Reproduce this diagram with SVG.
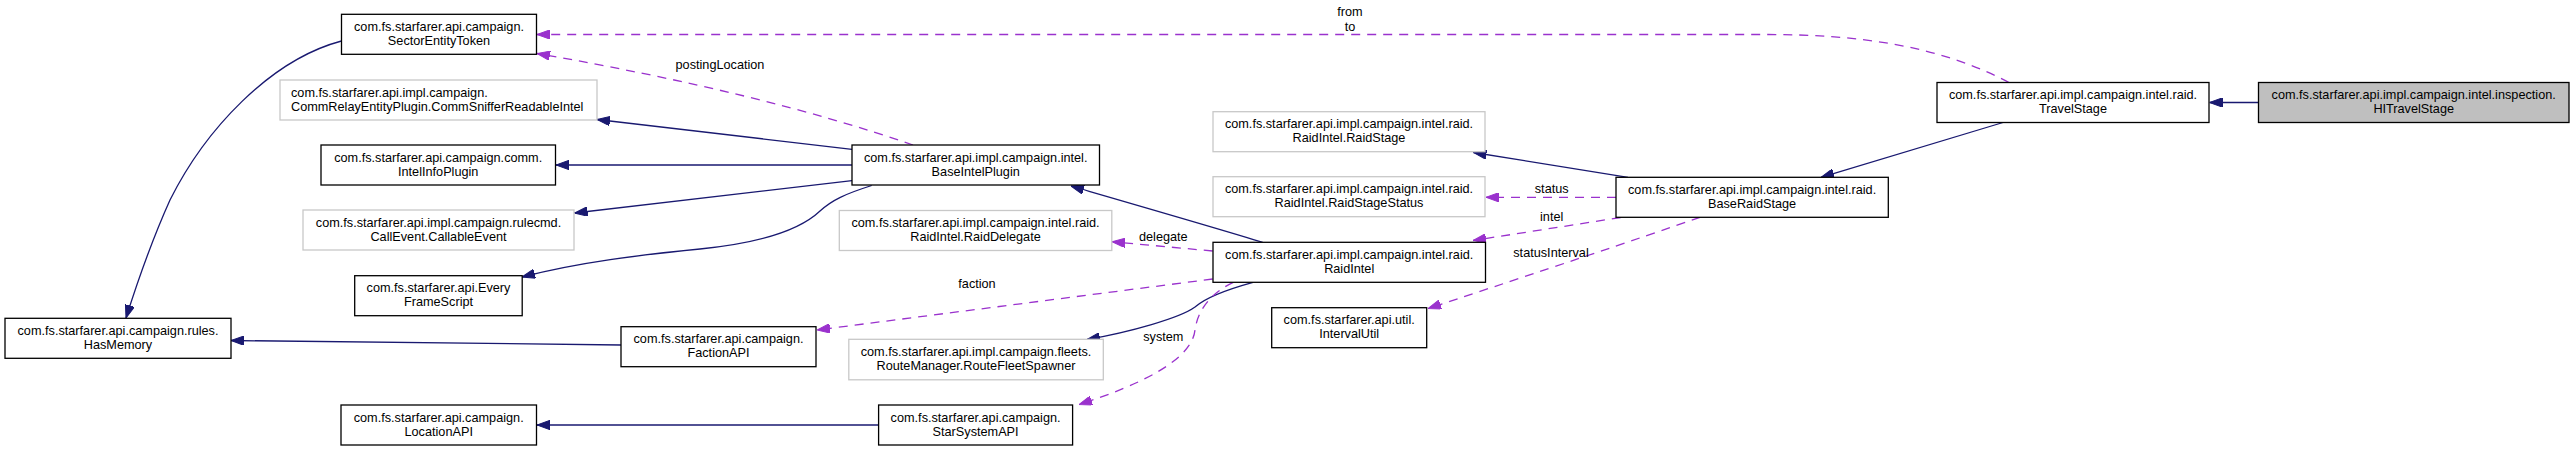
<svg xmlns="http://www.w3.org/2000/svg" width="2575" height="451" viewBox="0 0 2575 451">
<style>
text{font-family:"Liberation Sans",Arial,sans-serif;font-size:12.7px;fill:#000;text-anchor:middle}
text.l{text-anchor:start}
.n rect{fill:#fff;stroke:#000;stroke-width:1.3}
.n.g rect{stroke:#c8c8c8}
.n.h rect{fill:#bfbfbf}
.e path{fill:none;stroke-width:1.3}
.s{stroke:#191970;marker-end:url(#an)}
.d{stroke:#9a32cd;stroke-dasharray:9,7;marker-end:url(#ap)}
</style>
<defs>
<marker id="an" viewBox="0 0 13 9.4" refX="13" refY="4.7" markerWidth="13" markerHeight="9.4" markerUnits="userSpaceOnUse" orient="auto"><path d="M0,0 L13,4.7 L0,9.4 z" fill="#191970" stroke="#191970" stroke-width="1"/></marker>
<marker id="ap" viewBox="0 0 13 9.4" refX="13" refY="4.7" markerWidth="13" markerHeight="9.4" markerUnits="userSpaceOnUse" orient="auto"><path d="M0,0 L13,4.7 L0,9.4 z" fill="#9a32cd" stroke="#9a32cd" stroke-width="1"/></marker>
</defs>
<rect width="2575" height="451" fill="#fff"/>
<g id="edges" class="e">
<path class="s" d="M2258.5,102.5 L2209.5,102.5"/>
<path class="s" d="M2003,122.5 L1821,177.3"/>
<path class="d" d="M2009,82.5 C1940,46 1860,34.5 1768,34.5 L537,34.5"/>
<path class="s" d="M1628,177.3 L1473.5,152.5"/>
<path class="d" d="M1616,197.3 L1486,197.3"/>
<path class="d" d="M1620.7,217.5 L1473,240.5"/>
<path class="d" d="M1700,217.3 Q1600,252 1428,308.5"/>
<path class="s" d="M1262.7,242.3 C1230,232 1140,206 1071,186"/>
<path class="d" d="M1212.7,251 L1112,241.7"/>
<path class="d" d="M1212.7,279 L817,330"/>
<path class="s" d="M1253,282.3 C1225,290 1205,298 1195,307 C1180,318 1130,332 1087,339.5"/>
<path class="d" d="M1233.3,282.3 C1213,292 1198,308 1195,330 C1192,360 1140,385 1079,404.5"/>
<path class="s" d="M878.6,425 L537,425"/>
<path class="s" d="M621,345 L231,340.5"/>
<path class="s" d="M341.5,41 C270,60 205,130 170,200 C152,240 138,280 126,318"/>
<path class="d" d="M913,145 Q760,92 537,53.5"/>
<path class="s" d="M852,149.3 L597,119.5"/>
<path class="s" d="M852,165 L556,165"/>
<path class="s" d="M852,180.7 L574.5,213"/>
<path class="s" d="M871.7,185.5 C845,194 832,200 820,211 C800,230 760,243 700,249 C640,255 580,262 522,277"/>
<text x="1350" y="16">from</text>
<text x="1350" y="31">to</text>
<text x="720" y="69">postingLocation</text>
<text x="1551.7" y="193.3">status</text>
<text x="1551.7" y="221">intel</text>
<text x="1551" y="257.3">statusInterval</text>
<text x="1163.3" y="241">delegate</text>
<text x="977" y="287.7">faction</text>
<text x="1163.3" y="341">system</text>
</g>
<g id="n_SectorEntityToken" class="n"><rect x="341.5" y="14.3" width="195" height="40"/><text x="439" y="30.8">com.fs.starfarer.api.campaign.</text><text x="439" y="44.8">SectorEntityToken</text></g>
<g id="n_CommSnifferReadableIntel" class="n g"><rect x="280" y="80" width="317" height="40"/><text class="l" x="291" y="96.5">com.fs.starfarer.api.impl.campaign.</text><text class="l" x="291" y="110.5">CommRelayEntityPlugin.CommSnifferReadableIntel</text></g>
<g id="n_IntelInfoPlugin" class="n"><rect x="321" y="145" width="234.5" height="40"/><text x="438.2" y="161.5">com.fs.starfarer.api.campaign.comm.</text><text x="438.2" y="175.5">IntelInfoPlugin</text></g>
<g id="n_CallableEvent" class="n g"><rect x="303" y="210" width="271" height="40"/><text x="438.5" y="226.5">com.fs.starfarer.api.impl.campaign.rulecmd.</text><text x="438.5" y="240.5">CallEvent.CallableEvent</text></g>
<g id="n_EveryFrameScript" class="n"><rect x="354.7" y="275.7" width="167.5" height="40"/><text x="438.5" y="292.2">com.fs.starfarer.api.Every</text><text x="438.5" y="306.2">FrameScript</text></g>
<g id="n_HasMemory" class="n"><rect x="5" y="318.3" width="226" height="40"/><text x="118" y="334.8">com.fs.starfarer.api.campaign.rules.</text><text x="118" y="348.8">HasMemory</text></g>
<g id="n_FactionAPI" class="n"><rect x="621" y="326.7" width="195" height="40"/><text x="718.5" y="343.2">com.fs.starfarer.api.campaign.</text><text x="718.5" y="357.2">FactionAPI</text></g>
<g id="n_LocationAPI" class="n"><rect x="341" y="405" width="195.5" height="40"/><text x="438.7" y="421.5">com.fs.starfarer.api.campaign.</text><text x="438.7" y="435.5">LocationAPI</text></g>
<g id="n_BaseIntelPlugin" class="n"><rect x="852" y="145" width="247.5" height="40"/><text x="975.7" y="161.5">com.fs.starfarer.api.impl.campaign.intel.</text><text x="975.7" y="175.5">BaseIntelPlugin</text></g>
<g id="n_RaidDelegate" class="n g"><rect x="839.3" y="210.5" width="272.5" height="40"/><text x="975.5" y="227">com.fs.starfarer.api.impl.campaign.intel.raid.</text><text x="975.5" y="241">RaidIntel.RaidDelegate</text></g>
<g id="n_RouteFleetSpawner" class="n g"><rect x="848.8" y="339.3" width="254.5" height="40.5"/><text x="976" y="355.8">com.fs.starfarer.api.impl.campaign.fleets.</text><text x="976" y="369.8">RouteManager.RouteFleetSpawner</text></g>
<g id="n_StarSystemAPI" class="n"><rect x="878.6" y="405" width="194" height="40"/><text x="975.6" y="421.5">com.fs.starfarer.api.campaign.</text><text x="975.6" y="435.5">StarSystemAPI</text></g>
<g id="n_RaidStage" class="n g"><rect x="1213" y="111.7" width="272" height="40"/><text x="1349" y="128.2">com.fs.starfarer.api.impl.campaign.intel.raid.</text><text x="1349" y="142.2">RaidIntel.RaidStage</text></g>
<g id="n_RaidStageStatus" class="n g"><rect x="1213" y="176.7" width="272" height="40"/><text x="1349" y="193.2">com.fs.starfarer.api.impl.campaign.intel.raid.</text><text x="1349" y="207.2">RaidIntel.RaidStageStatus</text></g>
<g id="n_RaidIntel" class="n"><rect x="1213" y="242.3" width="272.5" height="40"/><text x="1349.2" y="258.8">com.fs.starfarer.api.impl.campaign.intel.raid.</text><text x="1349.2" y="272.8">RaidIntel</text></g>
<g id="n_IntervalUtil" class="n"><rect x="1271.7" y="307.7" width="155" height="40"/><text x="1349.2" y="324.2">com.fs.starfarer.api.util.</text><text x="1349.2" y="338.2">IntervalUtil</text></g>
<g id="n_BaseRaidStage" class="n"><rect x="1616" y="177.3" width="272.3" height="40"/><text x="1752.1" y="193.8">com.fs.starfarer.api.impl.campaign.intel.raid.</text><text x="1752.1" y="207.8">BaseRaidStage</text></g>
<g id="n_TravelStage" class="n"><rect x="1937" y="82.5" width="272" height="40"/><text x="2073" y="99">com.fs.starfarer.api.impl.campaign.intel.raid.</text><text x="2073" y="113">TravelStage</text></g>
<g id="n_HITravelStage" class="n h"><rect x="2258.5" y="82.5" width="310.5" height="40"/><text x="2413.7" y="99">com.fs.starfarer.api.impl.campaign.intel.inspection.</text><text x="2413.7" y="113">HITravelStage</text></g>
</svg>
